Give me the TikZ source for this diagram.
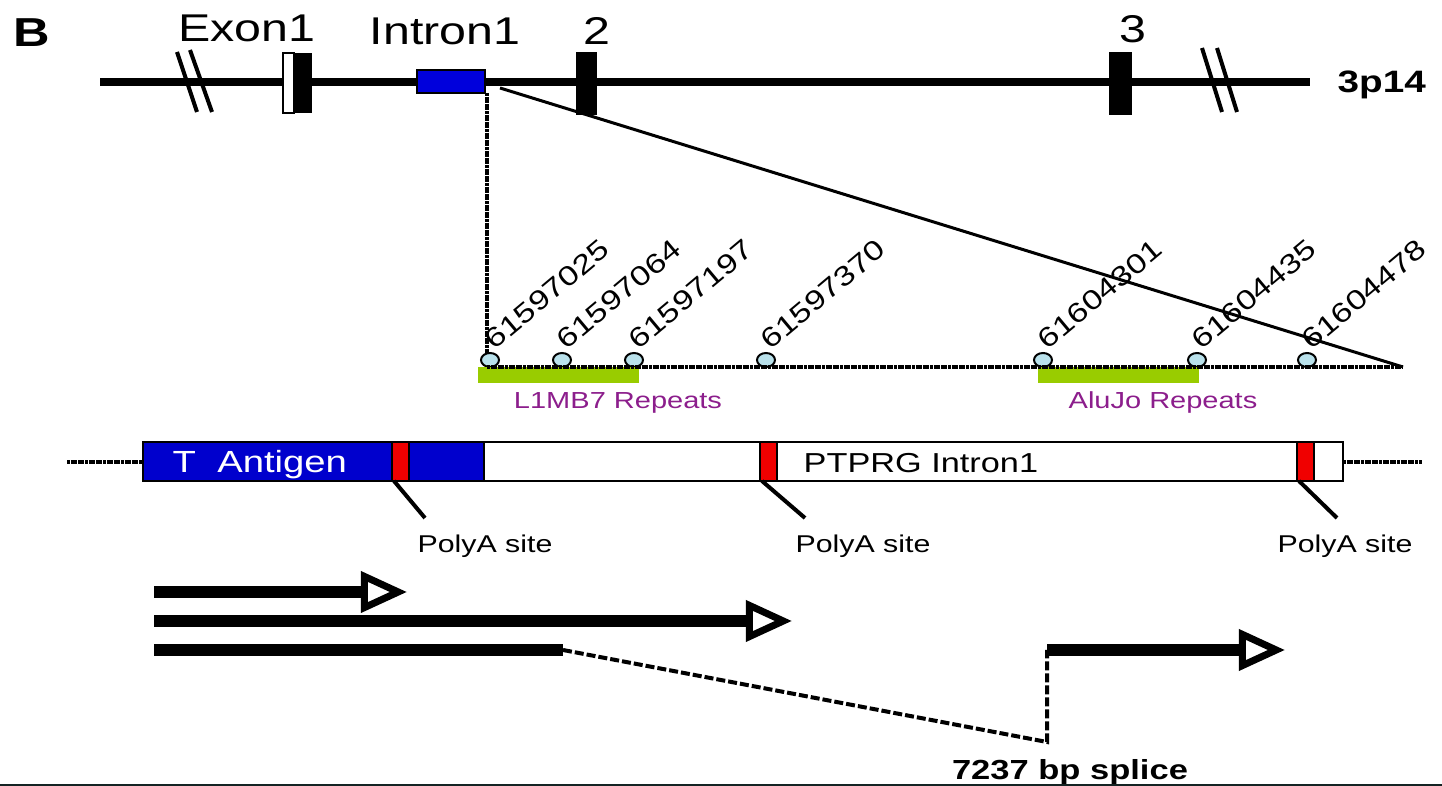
\documentclass[tikz,border=0pt]{standalone}
\usepackage{fontspec}
\setmainfont{Liberation Sans}[FakeStretch=1.25]
\usetikzlibrary{arrows.meta}
\definecolor{intronblue}{RGB}{0,0,220}
\definecolor{antigenblue}{RGB}{0,0,205}
\definecolor{polyared}{RGB}{240,0,0}
\definecolor{repeatgreen}{RGB}{153,204,0}
\definecolor{sitecyan}{RGB}{185,225,235}
\definecolor{repeatpurple}{RGB}{140,30,140}
\definecolor{edgeline}{RGB}{20,35,35}
\tikzset{
  chrom line/.style={line width=0.08cm, black},
  break mark/.style={line width=0.04cm, black},
  exon box/.style={fill=black},
  outlined box/.style={draw=black, line width=0.015cm},
  zoom line/.style={line width=0.03cm, black},
  hatch line/.style={line width=0.04cm, black, dash pattern=on 0.03cm off 0.006cm},
  site dot/.style={draw=black, line width=0.02cm, fill=sitecyan},
  repeat bar/.style={fill=repeatgreen},
  polya tick/.style={line width=0.04cm, black},
  transcript/.style={line width=0.12cm, black},
  transcript arrow/.style={transcript, -{Triangle[open, length=0.46cm, width=0.4cm, line width=0.07cm]}},
  splice line/.style={line width=0.04cm, black, dash pattern=on 0.09cm off 0.03cm},
  gene label/.style={anchor=base, inner sep=0pt, font=\fontsize{11}{13}\selectfont},
  pos label/.style={rotate=40, anchor=base west, inner sep=0pt, font=\fontsize{7.8}{9}\selectfont},
  repeat label/.style={anchor=base, inner sep=0pt, text=repeatpurple, font=\fontsize{6.6}{8}\selectfont},
  site label/.style={anchor=base, inner sep=0pt, font=\fontsize{6.9}{8}\selectfont},
}

\begin{document}
\begin{tikzpicture}[x=0.01cm, y=-0.01cm]
  \useasboundingbox (0,0) rectangle (1442,786);
  % chromosome 3p14
  \node[anchor=base, inner sep=0pt, font=\bfseries\fontsize{11.5}{13}\selectfont] (panel) at (32,47) {B};
  \draw[chrom line] (100,82) -- (1310,82);
  \draw[break mark] (177,52) -- (197,112) (190,50) -- (212,112);
  \draw[break mark] (1202,48) -- (1222,112) (1217,48) -- (1237,112);
  \filldraw[fill=white, outlined box] (283,53) rectangle (294,113);
  \fill[exon box] (294,53) rectangle (312,113);
  \fill[exon box] (576,52) rectangle (597,115);
  \fill[exon box] (1109,52) rectangle (1132,115);
  \filldraw[fill=intronblue, outlined box] (417,70) rectangle (485,93);
  \node[gene label] (exon1) at (247,42) {Exon1};
  \node[gene label] (intron1) at (445,45) {Intron1};
  \node[gene label] (exon2) at (597,45) {2};
  \node[gene label] (exon3) at (1133,43) {3};
  \node[anchor=base west, inner sep=0pt, font=\bfseries\fontsize{8.8}{10}\selectfont] (band) at (1337,93) {3p14};

  % zoom into intron 1
  \coordinate (intron se) at (487,93);
  \coordinate (intron ne) at (500,88);
  \coordinate (map w) at (487,367);
  \coordinate (map e) at (1403,367);
  \draw[hatch line] (intron se) -- (map w);
  \draw[zoom line] (intron ne) -- (map e);
  \foreach \x/\pos [count=\i] in {490/61597025, 562/61597064, 634/61597197, 766/61597370,
                                  1043/61604301, 1197/61604435, 1307/61604478} {
    \draw[site dot] (\x,360) ellipse (9 and 7);
    \node[pos label] (site\i) at (\x+4,351) {\pos};
  }
  \fill[repeat bar] (478,367) rectangle (639,383);
  \fill[repeat bar] (1038,367) rectangle (1199,383);
  \draw[hatch line] (map w) -- (map e);
  \node[repeat label] (l1mb7) at (618,409) {L1MB7 Repeats};
  \node[repeat label] (alujo) at (1163,409) {AluJo Repeats};

  % integrated construct
  \draw[hatch line] (67,462) -- (143,462);
  \draw[hatch line] (1343,462) -- (1422,462);
  \filldraw[fill=white, outlined box] (143,442) rectangle (1343,481);
  \filldraw[fill=antigenblue, outlined box] (143,442) rectangle (484,481);
  \foreach \x [count=\i] in {392, 760, 1297} {
    \filldraw[fill=polyared, outlined box] (\x,442) rectangle (\x+17,481);
  }
  \node[anchor=base west, inner sep=0pt, text=white, font=\fontsize{8.7}{10}\selectfont] (tag) at (172,473) {T~~Antigen};
  \node[anchor=base west, inner sep=0pt, font=\fontsize{7.8}{10}\selectfont] (ptprg) at (803,473) {PTPRG Intron1};
  \draw[polya tick] (394,481) -- (425,518);
  \draw[polya tick] (762,481) -- (805,518);
  \draw[polya tick] (1299,481) -- (1337,518);
  \node[site label] (polya1) at (485,553) {PolyA site};
  \node[site label] (polya2) at (863,553) {PolyA site};
  \node[site label] (polya3) at (1345,553) {PolyA site};

  % transcripts
  \coordinate (t1 start) at (154,592);
  \coordinate (t1 end) at (407,592);
  \coordinate (t2 start) at (154,621);
  \coordinate (t2 end) at (792,621);
  \coordinate (t3 start) at (154,650);
  \coordinate (t3 end) at (563,650);
  \coordinate (splice low) at (1047,742);
  \coordinate (t4 start) at (1047,650);
  \coordinate (t4 end) at (1285,650);
  \draw[transcript arrow] (t1 start) -- (t1 end);
  \draw[transcript arrow] (t2 start) -- (t2 end);
  \draw[transcript] (t3 start) -- (t3 end);
  \draw[splice line] (t3 end) -- (splice low) -- (t4 start);
  \draw[transcript arrow] (t4 start) -- (t4 end);
  \node[anchor=base, inner sep=0pt, font=\bfseries\fontsize{7.85}{10}\selectfont] (splice) at (1070,780) {7237 bp splice};
  \draw[line width=0.025cm, edgeline] (0,785) -- (1442,785);
\end{tikzpicture}
\end{document}
